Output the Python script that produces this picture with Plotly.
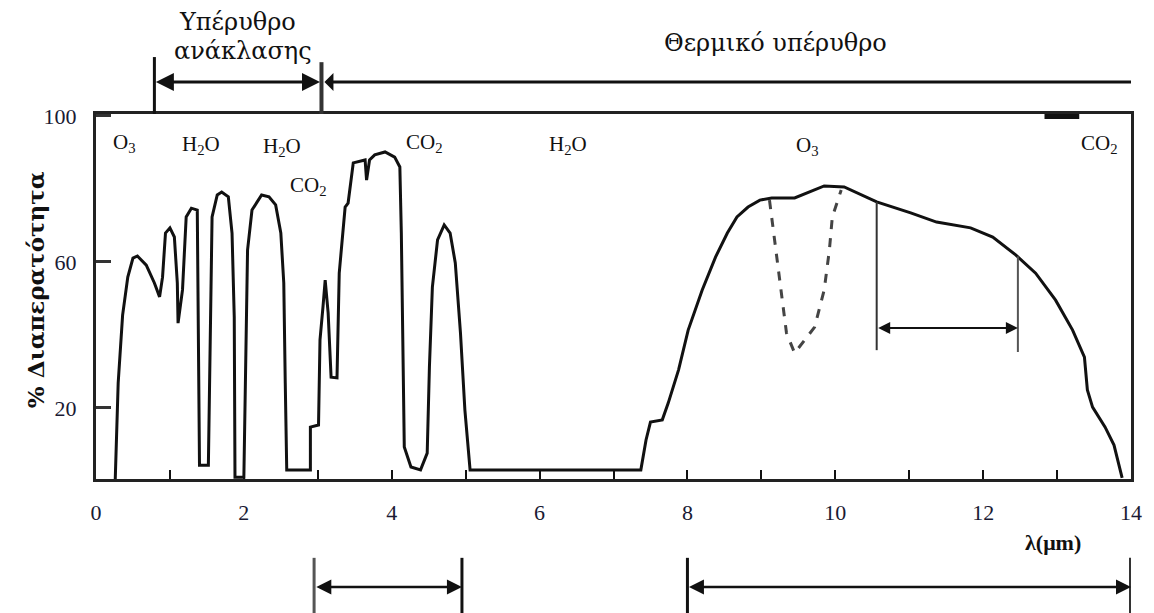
import plotly.graph_objects as go

# ---------------- data ----------------
wavelength_um = [0.26, 0.30, 0.36, 0.43, 0.50, 0.56, 0.68, 0.79, 0.86, 0.90, 0.94, 1.00, 1.06, 1.10, 1.11,
                 1.17, 1.22, 1.29, 1.37, 1.40, 1.40, 1.52, 1.54, 1.57, 1.64, 1.70, 1.79, 1.84, 1.87, 1.88,
                 2.00, 2.03, 2.05, 2.11, 2.24, 2.34, 2.43, 2.50, 2.54, 2.56, 2.58, 2.90, 2.90, 3.01, 3.03,
                 3.07, 3.10, 3.14, 3.18, 3.26, 3.29, 3.37, 3.41, 3.48, 3.64, 3.66, 3.70, 3.77, 3.91, 4.04,
                 4.11, 4.13, 4.15, 4.17, 4.26, 4.39, 4.48, 4.51, 4.55, 4.62, 4.71, 4.79, 4.86, 4.93, 4.99,
                 5.06, 7.37, 7.44, 7.50, 7.66, 7.74, 7.88, 8.01, 8.20, 8.38, 8.54, 8.67, 8.82, 8.98, 9.14,
                 9.45, 9.62, 9.85, 10.12, 10.30, 10.56, 11.02, 11.37, 11.83, 12.13, 12.44, 12.71, 12.98,
                 13.21, 13.37, 13.41, 13.48, 13.65, 13.77, 13.84, 13.88]
transmittance = [0.2, 26.8, 45.4, 55.8, 61.0, 61.6, 59.1, 54.2, 50.4, 55.8, 67.9, 69.3, 66.8, 54.2, 43.2,
                 52.3, 72.3, 74.7, 74.2, 10.4, 4.3, 4.3, 35.8, 72.3, 78.3, 79.1, 77.8, 67.9, 44.9, 1.0,
                 1.0, 44.9, 63.2, 74.2, 78.3, 77.8, 75.6, 67.9, 54.2, 26.8, 3.0, 3.0, 14.7, 15.3, 38.6,
                 47.6, 55.0, 46.0, 28.4, 28.2, 56.9, 75.0, 76.1, 87.1, 87.9, 82.4, 87.9, 89.3, 90.1, 88.7,
                 86.0, 67.9, 31.2, 9.3, 3.8, 3.0, 7.6, 31.2, 53.1, 66.0, 70.1, 67.9, 59.7, 40.5, 19.4,
                 3.0, 3.0, 11.2, 16.1, 16.7, 21.3, 30.4, 41.3, 52.3, 61.3, 67.9, 72.3, 75.0, 76.9, 77.5,
                 77.5, 78.9, 80.8, 80.5, 78.9, 76.4, 73.4, 70.9, 69.3, 66.8, 61.9, 56.9, 49.5,
                 41.3, 33.9, 24.9, 20.2, 14.7, 9.8, 3.8, 0.8]

# O3 absorption band (dashed)
o3_wavelength_um = [9.11, 9.15, 9.22, 9.29, 9.34, 9.45, 9.56, 9.72, 9.85, 9.92, 9.96, 10.08]
o3_transmittance = [76.9, 70.6, 60.5, 49.5, 40.5, 35.0, 37.8, 42.1, 52.3, 63.2, 72.3, 79.7]

x_tick_values = list(range(0, 15))
x_tick_labels = [str(v) if v % 2 == 0 else "" for v in x_tick_values]
y_tick_values = [20, 60, 100]
y_tick_labels = ["20", "60", "100"]

gas_labels = ["O<sub>3</sub>", "H<sub>2</sub>O", "H<sub>2</sub>O", "CO<sub>2</sub>", "CO<sub>2</sub>",
              "H<sub>2</sub>O", "O<sub>3</sub>", "CO<sub>2</sub>"]
gas_x = [0.39, 1.42, 2.52, 2.88, 4.45, 6.39, 9.62, 13.57]
gas_y = [92.6, 92.0, 91.5, 80.8, 92.6, 92.0, 91.7, 92.4]

# ---------------- figure ----------------
SERIF = "Liberation Serif, DejaVu Serif, serif"
GREEK = "DejaVu Serif, Liberation Serif, serif"
INK = "#111111"

fig = go.Figure()
fig.add_trace(go.Scatter(x=wavelength_um, y=transmittance, mode="lines",
                         line=dict(color=INK, width=3), hoverinfo="skip", showlegend=False))
fig.add_trace(go.Scatter(x=o3_wavelength_um, y=o3_transmittance, mode="lines",
                         line=dict(color="#444444", width=3, dash="dash"), hoverinfo="skip",
                         showlegend=False))

annotations = []
for t, gx, gy in zip(gas_labels, gas_x, gas_y):
    annotations.append(dict(x=gx, y=gy, xref="x", yref="y", text=t, showarrow=False,
                            xanchor="center", yanchor="middle",
                            font=dict(family=SERIF, size=21, color=INK)))

# header text
annotations += [
    dict(x=1.91, y=1.252, xref="x", yref="paper", text="Υπέρυθρο", showarrow=False,
         xanchor="center", yanchor="middle", font=dict(family=GREEK, size=24, color=INK)),
    dict(x=1.99, y=1.172, xref="x", yref="paper", text="ανάκλασης", showarrow=False,
         xanchor="center", yanchor="middle", font=dict(family=GREEK, size=24, color=INK)),
    dict(x=9.19, y=1.195, xref="x", yref="paper", text="Θερμικό υπέρυθρο", showarrow=False,
         xanchor="center", yanchor="middle", font=dict(family=GREEK, size=24, color=INK)),
    dict(x=12.95, y=-0.175, xref="x", yref="paper", text="<b>λ(μm)</b>", showarrow=False,
         xanchor="center", yanchor="middle", font=dict(family=SERIF, size=22, color=INK)),
    dict(x=-0.059, y=0.52, xref="paper", yref="paper", text="<b>% Διαπερατότητα</b>",
         showarrow=False, textangle=-90, xanchor="center", yanchor="middle",
         font=dict(family=GREEK, size=23, color=INK)),
]


def double_arrow(x0, x1, y, yref, width=2.5, side="end+start"):
    return dict(x=x1, y=y, ax=x0, ay=0 if yref == "paper" else y, xref="x", yref=yref,
                axref="x", ayref="pixel" if yref == "paper" else "y", text="", showarrow=True,
                arrowhead=2, arrowside=side, arrowsize=1.2, arrowwidth=width,
                arrowcolor=INK, standoff=0, startstandoff=0)


annotations += [
    double_arrow(0.79, 3.03, 1.088, "paper", 3),
    double_arrow(3.07, 14.0, 1.088, "paper", 3, side="start"),
    double_arrow(2.96, 4.95, -0.296, "paper"),
    double_arrow(8.0, 14.0, -0.296, "paper"),
    double_arrow(10.56, 12.47, 41.9, "y", 2),
]

shapes = [
    # header brackets
    dict(type="line", xref="x", yref="paper", x0=0.79, x1=0.79, y0=1.0, y1=1.156,
         line=dict(color=INK, width=3)),
    dict(type="line", xref="x", yref="paper", x0=3.05, x1=3.05, y0=1.0, y1=1.142,
         line=dict(color="#333333", width=4)),
    # bottom brackets
    dict(type="line", xref="x", yref="paper", x0=2.95, x1=2.95, y0=-0.216, y1=-0.37,
         line=dict(color="#555555", width=3)),
    dict(type="line", xref="x", yref="paper", x0=4.95, x1=4.95, y0=-0.216, y1=-0.37,
         line=dict(color=INK, width=3)),
    dict(type="line", xref="x", yref="paper", x0=8.0, x1=8.0, y0=-0.216, y1=-0.37,
         line=dict(color=INK, width=3)),
    dict(type="line", xref="x", yref="paper", x0=14.0, x1=14.0, y0=-0.216, y1=-0.37,
         line=dict(color="#333333", width=4)),
    # inner bracket
    dict(type="line", xref="x", yref="y", x0=10.56, x1=10.56, y0=35.8, y1=76.4,
         line=dict(color="#333333", width=2)),
    dict(type="line", xref="x", yref="y", x0=12.47, x1=12.47, y0=35.3, y1=61.5,
         line=dict(color="#555555", width=2)),
    # small mark on top border
    dict(type="line", xref="x", yref="paper", x0=12.83, x1=13.3, y0=0.993, y1=0.993,
         line=dict(color=INK, width=5)),
]

fig.update_layout(
    width=1154, height=613,
    margin=dict(l=96, r=16, t=114, b=134),
    paper_bgcolor="white", plot_bgcolor="white",
    showlegend=False,
    font=dict(family=SERIF, color=INK),
    annotations=annotations,
    shapes=shapes,
    xaxis=dict(range=[0, 14], tickvals=x_tick_values, ticktext=x_tick_labels,
               ticks="inside", ticklen=9, tickwidth=2, tickcolor=INK,
               showline=True, linewidth=3, linecolor="#222222", mirror=True,
               showgrid=False, zeroline=False, ticklabelstandoff=12,
               tickfont=dict(family=SERIF, size=22, color="#1a1a33")),
    yaxis=dict(range=[0.5, 100.5], tickvals=y_tick_values, ticktext=y_tick_labels,
               ticks="inside", ticklen=15, tickwidth=3, tickcolor="#333333",
               showline=True, linewidth=3, linecolor="#222222", mirror=True,
               showgrid=False, zeroline=False, ticklabelstandoff=12,
               tickfont=dict(family=SERIF, size=22, color="#1a1a33")),
)

fig.write_html("out.html")
